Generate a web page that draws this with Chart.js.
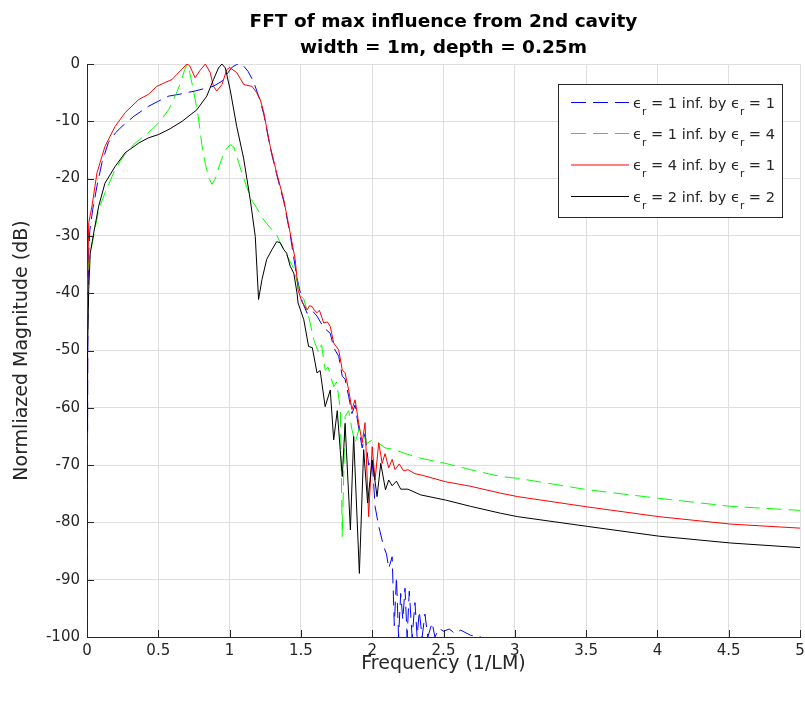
<!DOCTYPE html>
<html>
<head>
<meta charset="utf-8">
<script src="https://cdn.jsdelivr.net/npm/chart.js@4.4.1/dist/chart.umd.min.js"></script>
<style>
  body { margin: 0; background: #ffffff; }
</style>
</head>
<body>
<canvas id="fftChart" width="805" height="706"></canvas>
<script>
// FFT of max influence (freq in 1/LM, magnitude in dB)
const blueFreq = [0, 0.003, 0.006, 0.012, 0.02, 0.04, 0.07, 0.105, 0.15, 0.2, 0.245, 0.33, 0.43, 0.5, 0.574, 0.644, 0.7, 0.76, 0.82, 0.885, 0.946, 0.98, 1.02, 1.05, 1.08, 1.1, 1.13, 1.17, 1.215, 1.24, 1.285, 1.33, 1.38, 1.425, 1.47, 1.51, 1.543, 1.578, 1.613, 1.66, 1.706, 1.73, 1.765, 1.79, 1.81, 1.835, 1.858, 1.88, 1.905, 1.93, 1.95, 1.975, 2.0, 2.02, 2.046, 2.08, 2.1, 2.116, 2.14, 2.155, 2.17, 2.185, 2.2, 2.215, 2.23, 2.245, 2.26, 2.28, 2.3, 2.315, 2.33, 2.35, 2.37, 2.39, 2.42, 2.44, 2.47, 2.5, 2.54, 2.58, 2.62, 2.69, 2.76, 2.82];
const blueMag = [-100, -72, -45, -33, -29, -25.4, -21.3, -17.2, -13.7, -12.0, -10.9, -9.1, -7.4, -6.5, -5.6, -5.3, -5.0, -4.7, -4.3, -3.9, -3.0, -1.8, -0.5, -0.1, 0, -0.4, -1.3, -3.2, -6.5, -8.8, -14.6, -19.3, -24, -29.8, -37, -41.5, -43.5, -43, -44, -46, -47, -49.5, -51, -54.5, -55, -58, -61, -59.5, -63.5, -67, -64.5, -70, -69, -77.2, -80.7, -84.2, -85.5, -88, -86, -98, -89.5, -100, -92.4, -97, -91.5, -100, -92, -100, -94, -100, -95.5, -100, -96, -100, -97.5, -100, -98.5, -99, -98.6, -99.4, -98.8, -99.7, -100, -101];

const greenFreq = [0, 0.005, 0.012, 0.023, 0.047, 0.082, 0.126, 0.197, 0.26, 0.337, 0.4, 0.456, 0.513, 0.574, 0.62, 0.653, 0.685, 0.705, 0.72, 0.746, 0.78, 0.805, 0.83, 0.857, 0.876, 0.9, 0.934, 0.97, 1.004, 1.03, 1.05, 1.086, 1.12, 1.16, 1.19, 1.227, 1.285, 1.33, 1.355, 1.4, 1.45, 1.5, 1.52, 1.554, 1.59, 1.624, 1.645, 1.67, 1.69, 1.73, 1.75, 1.777, 1.79, 1.81, 1.835, 1.858, 1.88, 1.91, 1.94, 1.965, 2.0, 2.046, 2.09, 2.16, 2.22, 2.34, 2.514, 2.69, 2.9, 3.02, 3.51, 4.01, 4.515, 5.0];
const greenMag = [-47.5, -38, -34.5, -33, -30, -25.4, -22.5, -18.4, -16, -13.8, -12.6, -11.4, -10, -7.9, -5.5, -3.5, -1, 0, -1.5, -4.5, -9.1, -14, -17.5, -20, -21, -20, -17.3, -15, -14.1, -14.5, -16.1, -19, -21.5, -24, -25.1, -26.8, -28.6, -29.8, -31.2, -33.3, -35.7, -40.5, -41, -44, -48.1, -50.4, -49, -53.4, -52.9, -56.3, -55.5, -60.3, -82.5, -61.5, -60.5, -63.8, -66.1, -63.5, -65, -66.2, -65.6, -66.2, -67, -67.3, -67.9, -68.8, -69.7, -70.8, -72, -72.3, -74.3, -75.8, -77.2, -77.9];

const redFreq = [0, 0.004, 0.012, 0.035, 0.07, 0.126, 0.197, 0.267, 0.363, 0.43, 0.49, 0.55, 0.597, 0.63, 0.667, 0.7, 0.72, 0.758, 0.79, 0.83, 0.864, 0.887, 0.91, 0.946, 0.98, 1.0, 1.05, 1.1, 1.157, 1.19, 1.215, 1.24, 1.285, 1.33, 1.38, 1.425, 1.46, 1.48, 1.507, 1.543, 1.56, 1.578, 1.595, 1.613, 1.63, 1.66, 1.685, 1.706, 1.73, 1.765, 1.79, 1.81, 1.835, 1.858, 1.88, 1.905, 1.93, 1.95, 1.975, 2.0, 2.02, 2.046, 2.07, 2.09, 2.116, 2.14, 2.16, 2.19, 2.22, 2.25, 2.3, 2.34, 2.514, 2.69, 2.9, 3.02, 3.51, 4.01, 4.515, 5.0];
const redMag = [-55, -40, -27.7, -24.8, -19, -14.4, -10.9, -8.5, -6.2, -5.3, -3.9, -3.2, -2.7, -1.8, -0.9, 0, -0.3, -2.4, -1.2, 0, -1.5, -3.9, -4.7, -3.6, -1.0, -0.6, -1.5, -3.6, -3.9, -5, -6.2, -8.5, -14.4, -19, -23.7, -29.5, -34.1, -39.4, -41.5, -42.9, -42.2, -42.3, -43, -43.4, -43, -45.2, -45, -45.8, -48.7, -49.9, -53.4, -53.9, -56.9, -60.3, -58.6, -62.6, -66.1, -62.6, -79, -66.8, -72.6, -66.1, -69.7, -68, -70.5, -69, -70.8, -69.8, -71, -70.8, -71.5, -71.7, -72.9, -73.7, -74.9, -75.5, -77.3, -79, -80.3, -81.0];

const blackFreq = [0, 0.004, 0.012, 0.023, 0.047, 0.082, 0.126, 0.197, 0.267, 0.363, 0.43, 0.503, 0.583, 0.667, 0.77, 0.84, 0.887, 0.922, 0.946, 0.97, 1.004, 1.05, 1.098, 1.145, 1.18, 1.203, 1.227, 1.26, 1.297, 1.33, 1.355, 1.38, 1.4, 1.425, 1.45, 1.473, 1.48, 1.52, 1.554, 1.58, 1.613, 1.635, 1.67, 1.706, 1.73, 1.755, 1.79, 1.81, 1.847, 1.87, 1.91, 1.94, 1.968, 2.0, 2.034, 2.06, 2.093, 2.116, 2.14, 2.17, 2.2, 2.25, 2.34, 2.514, 2.69, 2.9, 3.02, 3.51, 4.01, 4.515, 5.0];
const blackMag = [-64, -50, -39.4, -33, -29.5, -24.8, -20.8, -17.9, -15.5, -13.8, -12.9, -12.3, -11.3, -10, -8, -5.6, -2.7, -0.7, 0, -0.7, -4.5, -10.9, -16.4, -23.7, -30.1, -41.1, -37.6, -34.1, -32.4, -31, -31.2, -32.4, -33, -35.3, -36.5, -40, -41.7, -44.6, -49.3, -49.5, -53.9, -53.5, -59.8, -56.9, -65.6, -60.5, -72, -62.7, -81.3, -65, -88.9, -67.3, -76.6, -69.1, -75.5, -69.7, -74.3, -72.6, -73.6, -72.8, -74.2, -74.2, -75.2, -76.1, -77.2, -78.4, -79, -80.7, -82.4, -83.6, -84.4];

// "_r" marks a subscript r
const legendLabels = ['ϵ_r = 1 inf. by ϵ_r = 1', 'ϵ_r = 1 inf. by ϵ_r = 4', 'ϵ_r = 4 inf. by ϵ_r = 1', 'ϵ_r = 2 inf. by ϵ_r = 2'];
const titleLines = ['FFT of max influence from 2nd cavity', 'width = 1m, depth = 0.25m'];

const FONT = '"DejaVu Sans", "Liberation Sans", sans-serif';
const DASH = [15, 7];

function toPoints(f, m) {
  return f.map((x, i) => ({x: x, y: m[i]}));
}

const seriesStyle = [
  {color: '#0000ff', dash: DASH},
  {color: '#00ff00', dash: DASH},
  {color: '#ff0000', dash: []},
  {color: '#000000', dash: []}
];

// inward ticks, title over the axes, MATLAB-like legend box
const matlabLook = {
  id: 'matlabLook',
  afterDraw(chart) {
    const {ctx, chartArea: a, scales: {x, y}} = chart;
    ctx.save();
    ctx.strokeStyle = '#262626';
    ctx.lineWidth = 1;
    ctx.setLineDash([]);
    ctx.beginPath();
    x.ticks.forEach(t => {
      const px = Math.round(x.getPixelForValue(t.value)) + 0.5;
      ctx.moveTo(px, a.bottom);
      ctx.lineTo(px, a.bottom - 7);
    });
    y.ticks.forEach(t => {
      const py = Math.round(y.getPixelForValue(t.value)) + 0.5;
      ctx.moveTo(a.left, py);
      ctx.lineTo(a.left + 7, py);
    });
    ctx.stroke();

    // title
    const cx = (a.left + a.right) / 2;
    ctx.fillStyle = '#000000';
    ctx.font = 'bold 18.5px ' + FONT;
    ctx.textAlign = 'center';
    ctx.textBaseline = 'alphabetic';
    ctx.fillText(titleLines[0], cx, 27);
    ctx.fillText(titleLines[1], cx, 53);

    // legend
    const bx = 558.5, by = 84.5, bw = 224, bh = 133;
    ctx.fillStyle = '#ffffff';
    ctx.fillRect(bx, by, bw, bh);
    ctx.strokeStyle = '#262626';
    ctx.strokeRect(bx, by, bw, bh);
    const rows = [102.5, 133.5, 165, 196.5];
    ctx.textAlign = 'left';
    legendLabels.forEach((label, i) => {
      const ry = rows[i];
      ctx.strokeStyle = seriesStyle[i].color;
      ctx.setLineDash(seriesStyle[i].dash);
      ctx.beginPath();
      ctx.moveTo(571, ry);
      ctx.lineTo(629, ry);
      ctx.stroke();
      ctx.setLineDash([]);
      let tx = 633;
      ctx.fillStyle = '#262626';
      label.split(/(_r)/).forEach(part => {
        if (part === '_r') {
          ctx.font = '10.5px ' + FONT;
          ctx.fillText('r', tx, ry + 12);
          tx += ctx.measureText('r').width;
        } else if (part.length) {
          ctx.font = '14.6px ' + FONT;
          ctx.fillText(part, tx, ry + 5);
          tx += ctx.measureText(part).width;
        }
      });
    });
    ctx.restore();
  }
};

const freqs = [blueFreq, greenFreq, redFreq, blackFreq];
const mags = [blueMag, greenMag, redMag, blackMag];

new Chart('fftChart', {
  type: 'line',
  data: {
    datasets: freqs.map((f, i) => ({
      label: legendLabels[i].replace(/_r/g, 'r'),
      data: toPoints(f, mags[i]),
      borderColor: seriesStyle[i].color,
      borderDash: seriesStyle[i].dash,
      borderWidth: 1,
      pointRadius: 0,
      tension: 0,
      fill: false,
      order: 4 - i
    }))
  },
  options: {
    responsive: false,
    animation: false,
    layout: {padding: {top: 64, right: 5, left: 0, bottom: 0}},
    plugins: {
      legend: {display: false},
      title: {display: false},
      tooltip: {enabled: false}
    },
    scales: {
      x: {
        type: 'linear',
        min: 0,
        max: 5,
        afterFit: (s) => { s.height = 69; s.paddingLeft = 0; s.paddingRight = 0; },
        ticks: {stepSize: 0.5, color: '#262626', font: {family: FONT, size: 15}, padding: 5, maxRotation: 0,
          callback: (v) => String(Math.round(v * 10) / 10)},
        grid: {color: '#dfdfdf', drawTicks: false},
        border: {color: '#262626', width: 1},
        title: {display: true, text: 'Frequency (1/LM)', color: '#262626', font: {family: FONT, size: 19}, padding: {top: 0, bottom: 31}}
      },
      y: {
        min: -100,
        max: 0,
        afterFit: (s) => { s.width = 87; },
        ticks: {stepSize: 10, color: '#262626', font: {family: FONT, size: 15}, padding: 7},
        grid: {color: '#dfdfdf', drawTicks: false},
        border: {color: '#262626', width: 1},
        title: {display: true, text: 'Normliazed Magnitude (dB)', color: '#262626', font: {family: FONT, size: 19}, padding: {top: 11, bottom: 0}}
      }
    }
  },
  plugins: [matlabLook]
});
</script>
</body>
</html>
